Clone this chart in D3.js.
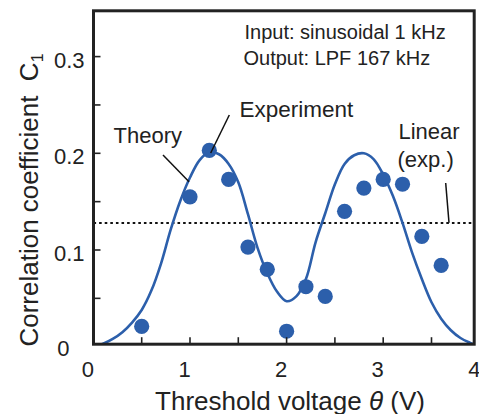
<!DOCTYPE html>
<html>
<head>
<meta charset="utf-8">
<script src="https://cdn.jsdelivr.net/npm/d3@7/dist/d3.min.js"></script>
<style>
  html, body { margin: 0; padding: 0; background: #fff; }
  svg { display: block; }
  text { font-family: "Liberation Sans", Arial, Helvetica, sans-serif; fill: #222; }
</style>
</head>
<body>
<script>
// ---- data ----
const expX = [0.5, 1.0, 1.2, 1.4, 1.6, 1.8, 2.0, 2.2, 2.4, 2.6, 2.8, 3.0, 3.2, 3.4, 3.6];
const expY = [0.021, 0.155, 0.203, 0.173, 0.103, 0.080, 0.016, 0.062, 0.052, 0.140, 0.164, 0.173, 0.168, 0.114, 0.084];
const theoryX = [0.0, 0.1, 0.2, 0.3, 0.4, 0.5, 0.6, 0.7, 0.8, 0.9, 1.0, 1.1, 1.2, 1.3, 1.4, 1.5, 1.6, 1.7, 1.8, 1.9, 2.0,
                 2.1, 2.2, 2.3, 2.4, 2.5, 2.6, 2.7, 2.8, 2.9, 3.0, 3.1, 3.2, 3.3, 3.4, 3.5, 3.6, 3.7, 3.8, 3.9, 4.0];
const theoryY = [0.000, 0.003, 0.008, 0.015, 0.025, 0.038, 0.058, 0.086, 0.121, 0.151, 0.175, 0.193, 0.201, 0.199, 0.189, 0.170, 0.137, 0.102, 0.076, 0.057, 0.047,
                 0.052, 0.070, 0.108, 0.138, 0.168, 0.189, 0.198, 0.200, 0.194, 0.178, 0.156, 0.128, 0.097, 0.070, 0.046, 0.029, 0.017, 0.009, 0.004, 0.000];
const linearExp = 0.128;
const xTickVals = [0, 1, 2, 3, 4];
const xMinorVals = [0.5, 1.5, 2.5, 3.5];
const yTickVals = [0, 0.1, 0.2, 0.3];
const yTickLabels = ["0", "0.1", "0.2", "0.3"];
const yMinorVals = [0.05, 0.15, 0.25];

// ---- layout ----
const W = 479, H = 414;
const frame = { left: 93.5, right: 474.2, top: 10.8, bottom: 344.2 };
const blue = "#2c5fab";
const ink = "#222";

const x = d3.scaleLinear().domain([0, 4]).range([93.4, 479.8]);
const y = d3.scaleLinear().domain([0, 0.35]).range([346.7, 8.25]);

const svg = d3.select("body").append("svg").attr("width", W).attr("height", H);

svg.append("clipPath").attr("id", "plotclip")
  .append("rect")
  .attr("x", frame.left).attr("y", frame.top)
  .attr("width", frame.right - frame.left).attr("height", frame.bottom - frame.top);

const plot = svg.append("g").attr("clip-path", "url(#plotclip)");

// dotted linear line
plot.append("line")
  .attr("x1", frame.left).attr("x2", frame.right)
  .attr("y1", y(linearExp)).attr("y2", y(linearExp))
  .attr("stroke", "#111").attr("stroke-width", 2)
  .attr("stroke-dasharray", "2.6,3");

// theory curve
const theory = theoryX.map((v, i) => [v, theoryY[i]]);
plot.append("path")
  .datum(theory)
  .attr("fill", "none")
  .attr("stroke", blue)
  .attr("stroke-width", 2.6)
  .attr("d", d3.line().x(d => x(d[0])).y(d => y(d[1])).curve(d3.curveCatmullRom.alpha(0.5)));

// experiment points
plot.selectAll("circle.exp")
  .data(expX.map((v, i) => [v, expY[i]]))
  .join("circle")
  .attr("class", "exp")
  .attr("cx", d => x(d[0])).attr("cy", d => y(d[1]))
  .attr("r", 7.6)
  .attr("fill", blue);

// frame
svg.append("rect")
  .attr("x", frame.left).attr("y", frame.top)
  .attr("width", frame.right - frame.left).attr("height", frame.bottom - frame.top)
  .attr("fill", "none").attr("stroke", ink).attr("stroke-width", 3);

// ticks (inward)
const tickLen = 7;
svg.selectAll("line.xt")
  .data(xTickVals.concat(xMinorVals).filter(v => x(v) > frame.left + 2 && x(v) < frame.right - 2))
  .join("line").attr("class", "xt")
  .attr("x1", d => x(d)).attr("x2", d => x(d))
  .attr("y1", frame.bottom).attr("y2", frame.bottom - tickLen)
  .attr("stroke", ink).attr("stroke-width", 1.6);
svg.selectAll("line.yt")
  .data(yTickVals.concat(yMinorVals).filter(v => y(v) < frame.bottom - 2))
  .join("line").attr("class", "yt")
  .attr("x1", frame.left).attr("x2", frame.left + tickLen)
  .attr("y1", d => y(d)).attr("y2", d => y(d))
  .attr("stroke", ink).attr("stroke-width", 1.6);

// tick labels
svg.selectAll("text.xl")
  .data(xTickVals)
  .join("text").attr("class", "xl")
  .attr("x", d => x(d) - 5.5)
  .attr("y", 376.5)
  .attr("text-anchor", "middle")
  .attr("font-size", 22)
  .text(d => d);
svg.selectAll("text.yl")
  .data(yTickVals)
  .join("text").attr("class", "yl")
  .attr("x", (d, i) => i === 0 ? 69.5 : 84.5)
  .attr("y", (d, i) => y(d) + (i === 0 ? 1.5 : 3) + 7.9)
  .attr("text-anchor", "end")
  .attr("font-size", 22)
  .text((d, i) => yTickLabels[i]);

// axis titles
const xt = svg.append("text")
  .attr("x", 290).attr("y", 409.5)
  .attr("text-anchor", "middle")
  .attr("font-size", 26);
xt.append("tspan").text("Threshold voltage ");
xt.append("tspan").attr("font-style", "italic").text("θ");
xt.append("tspan").text(" (V)");

const yt = svg.append("text")
  .attr("transform", "translate(37.5,200) rotate(-90)")
  .attr("text-anchor", "middle")
  .attr("font-size", 26);
yt.append("tspan").text("Correlation coefficient\u00a0\u00a0C");
yt.append("tspan").attr("font-size", 16).attr("dy", 5).text("1");

// inset text
svg.append("text").attr("x", 244.5).attr("y", 39.3).attr("font-size", 20).text("Input: sinusoidal 1 kHz");
svg.append("text").attr("x", 243.5).attr("y", 65).attr("font-size", 20).text("Output: LPF 167 kHz");

// annotations
svg.append("text").attr("x", 113.5).attr("y", 142.7).attr("font-size", 22).text("Theory");
svg.append("text").attr("x", 239.5).attr("y", 117.3).attr("font-size", 22.5).text("Experiment");
svg.append("text").attr("x", 398.5).attr("y", 139.3).attr("font-size", 22).text("Linear");
svg.append("text").attr("x", 397.5).attr("y", 166.5).attr("font-size", 22).text("(exp.)");

// pointer lines
const pointers = [
  [[163, 155], [189, 181.7]],
  [[229.3, 115], [210.7, 153]],
  [[445.7, 183], [449, 222.7]]
];
svg.selectAll("line.ptr")
  .data(pointers)
  .join("line").attr("class", "ptr")
  .attr("x1", d => d[0][0]).attr("y1", d => d[0][1])
  .attr("x2", d => d[1][0]).attr("y2", d => d[1][1])
  .attr("stroke", "#111").attr("stroke-width", 1.5);
</script>
</body>
</html>
